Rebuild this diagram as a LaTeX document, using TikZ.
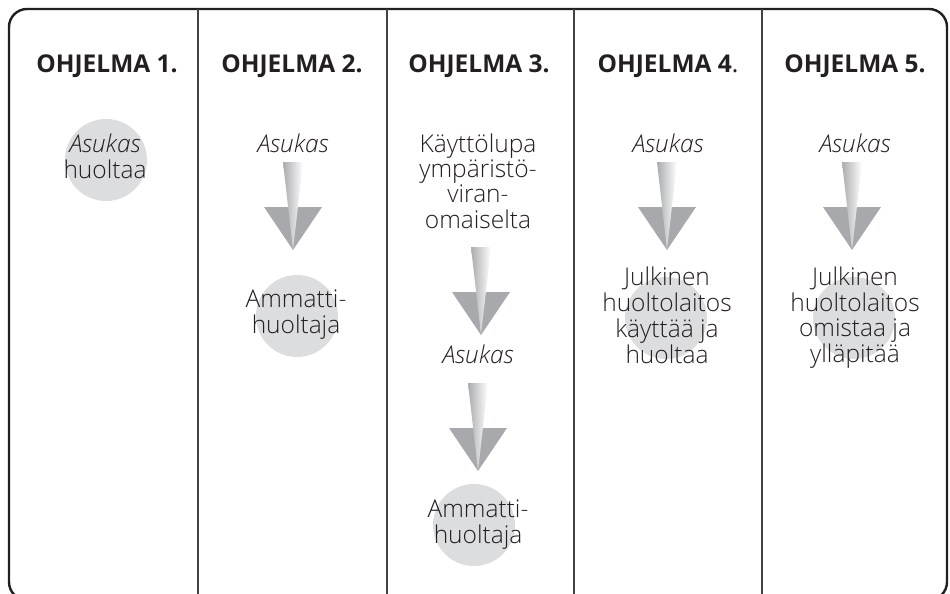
\documentclass[tikz,border=0pt]{standalone}
\usepackage{fontspec}
\setmainfont{Open Sans}
\IfFontExistsTF{Open Sans Light}
  {\newfontfamily\bodyfont{Open Sans Light}}
  {\newfontfamily\bodyfont{Open Sans}}
\definecolor{ink}{HTML}{231F20}
\definecolor{discgray}{HTML}{DCDDDE}
\definecolor{headgray}{HTML}{A7A9AC}
\definecolor{shaftgray}{HTML}{A9ABAE}
% centred block of lines whose first baseline is the node's base
\newcommand{\stacklines}[1]{\begin{tabular}[t]{@{}c@{}}#1\end{tabular}}
\begin{document}
\begin{tikzpicture}[x=1pt,y=-1pt,
  heading/.style={font=\bfseries\fontsize{24.5}{28}\selectfont, text=ink, anchor=base, inner sep=0pt},
  body/.style={font=\bodyfont\fontsize{24.5}{25}\selectfont, text=ink, anchor=base, inner sep=0pt},
  disc/.style={circle, fill=discgray, draw=none, inner sep=0pt, minimum size=82pt},
  divider/.style={draw=ink!85, line width=1.3pt},
  gradarrow/.pic={
    \fill[headgray] (-29,45) -- (29,45) -- (0,88) -- cycle;
    \shade[left color=shaftgray, right color=white] (-10,0) -- (10,0) -- (0,88) -- cycle;
  }]
\useasboundingbox (0,0) rectangle (950,594);
\clip (0,0) rectangle (950,594);

% frame and column rules
\draw[ink, line width=2.4pt, rounded corners=18pt] (9,9) rectangle (947,600);
\foreach \x in {198,387,574,762} \draw[divider] (\x,9) -- (\x,594);

% headings
\node[heading] (h1) at (107,73) {OHJELMA 1.};
\node[heading] (h2) at (292,73) {OHJELMA 2.};
\node[heading] (h3) at (479,73) {OHJELMA 3.};
\node[heading] (h4) at (668,73) {OHJELMA 4{\mdseries .}};
\node[heading] (h5) at (855,73) {OHJELMA 5.};

% column 1
\node[disc] (d1) at (106,160) {};
\node[body] (t1) at (105,152) {\stacklines{\itshape Asukas\\huoltaa}};

% column 2
\node[body] (a2) at (293,152) {\itshape Asukas};
\coordinate (p2) at (293,162);
\pic at (p2) {gradarrow};
\node[disc] (d2) at (297,316) {};
\node[body] (t2) at (296,307) {\stacklines{Ammatti-\\huoltaja}};

% column 3
\node[body] (k3) at (478,152) {\stacklines{Käyttölupa\\ympäristö-\\viran-\\omaiselta}};
\coordinate (p3a) at (481,247);
\pic at (p3a) {gradarrow};
\node[body] (a3) at (478,363) {\itshape Asukas};
\coordinate (p3b) at (478,383);
\pic at (p3b) {gradarrow};
\node[disc] (d3) at (474,525) {};
\node[body] (t3) at (478,517) {\stacklines{Ammatti-\\huoltaja}};

% column 4
\node[body] (a4) at (668,152) {\itshape Asukas};
\coordinate (p4) at (667,162);
\pic at (p4) {gradarrow};
\node[disc] (d4) at (666,318) {};
\node[body] (t4) at (667,285) {\stacklines{Julkinen\\huoltolaitos\\käyttää ja\\huoltaa}};

% column 5
\node[body] (a5) at (855,152) {\itshape Asukas};
\coordinate (p5) at (852,162);
\pic at (p5) {gradarrow};
\node[disc] (d5) at (854,318) {};
\node[body] (t5) at (855,285) {\stacklines{Julkinen\\huoltolaitos\\omistaa ja\\ylläpitää}};
\end{tikzpicture}
\end{document}
